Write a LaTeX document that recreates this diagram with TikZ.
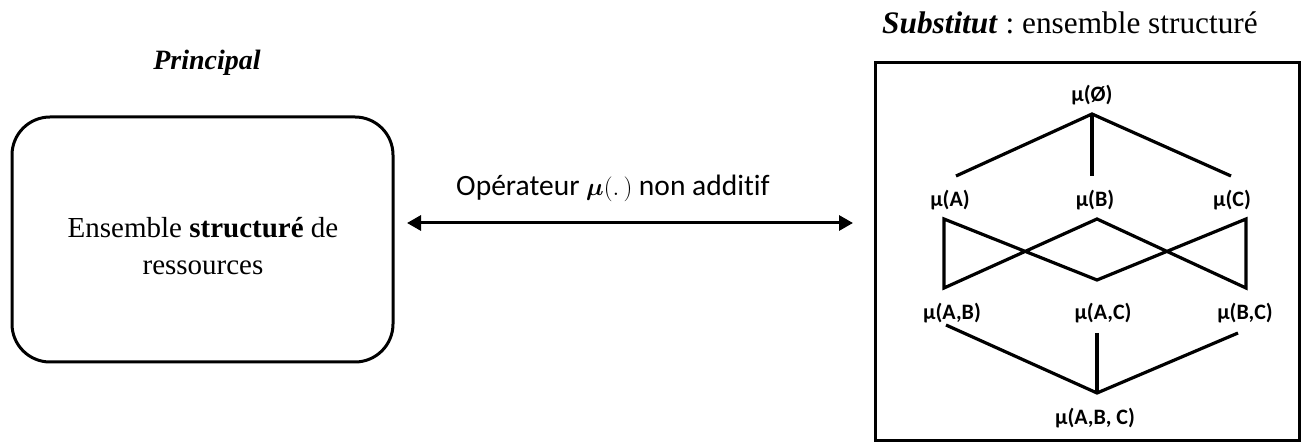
\documentclass[tikz,border=0pt]{standalone}
\usepackage{fontspec}
\usepackage{amsmath}
\setmainfont{Liberation Serif}
\newfontfamily\calfont[Ligatures=NoCommon]{Carlito}
\usetikzlibrary{arrows.meta}
\frenchspacing
\tikzset{
  ttl/.style={font=\fontsize{28}{32}\selectfont, inner sep=0pt},
  mu/.style={font=\calfont\bfseries\fontsize{22}{26}\selectfont, inner sep=0pt},
  lat/.style={line width=3.2pt},
  rbox/.style={draw, line width=3pt, rounded corners=38pt},
}
\begin{document}
\begin{tikzpicture}[x=1pt,y=-1pt]
\useasboundingbox (0,0) rectangle (1306,443);
% left
\node[ttl, font=\fontsize{28}{32}\selectfont\bfseries\itshape] (princ) at (207,63) {Principal};
\draw[rbox] (12,117) rectangle (393,362);
\node[ttl, align=center, font=\fontsize{29}{37}\selectfont] (ens) at (203,246) {Ensemble \textbf{structuré} de\\ressources};
% arrow
\coordinate (al) at (407,223);
\coordinate (ar) at (853,223);
\draw[line width=3pt, {Triangle[length=14pt,width=15pt]}-{Triangle[length=14pt,width=15pt]}] (al) -- (ar);
\node[ttl, font=\calfont\fontsize{29.5}{32}\selectfont] (op) at (613,188) {Opérateur $\boldsymbol{\mu}(.\,)$ non additif};
% right
\node[ttl, anchor=west, font=\fontsize{31.3}{34}\selectfont] (subst) at (882,23) {\textbf{\textit{Substitut}} : ensemble structuré};
\draw[line width=3pt] (875,63) rectangle (1299,440);
\node[mu] (m0) at (1092,95) {µ(Ø)};
\node[mu] (mA) at (950,200) {µ(A)};
\node[mu] (mB) at (1095,200) {µ(B)};
\node[mu] (mC) at (1232,200) {µ(C)};
\node[mu] (mAB) at (952,313) {µ(A,B)};
\node[mu] (mAC) at (1103,313) {µ(A,C)};
\node[mu] (mBC) at (1245,313) {µ(B,C)};
\node[mu] (mABC) at (1095,418) {µ(A,B, C)};
% coordinates
\coordinate (t0) at (1092,114);
\coordinate (uA) at (956,176);
\coordinate (uB) at (1092,176);
\coordinate (uC) at (1231,176);
\coordinate (aT) at (944,219);
\coordinate (aB) at (944,288);
\coordinate (bT) at (1097,219);
\coordinate (bB) at (1097,280);
\coordinate (cT) at (1246,219);
\coordinate (cB) at (1246,288);
\coordinate (dAB) at (946,325);
\coordinate (dAC) at (1097,333);
\coordinate (dBC) at (1238,333);
\coordinate (bot) at (1097,393);
\draw[lat] (uA) -- (t0) -- (uC);
\draw[lat] (t0) -- (uB);
\draw[lat] (aB) -- (aT) -- (bB) -- (cT) -- (cB) -- (bT) -- cycle;
\draw[lat] (dAB) -- (bot) -- (dBC);
\draw[lat] (dAC) -- (bot);
\end{tikzpicture}
\end{document}
